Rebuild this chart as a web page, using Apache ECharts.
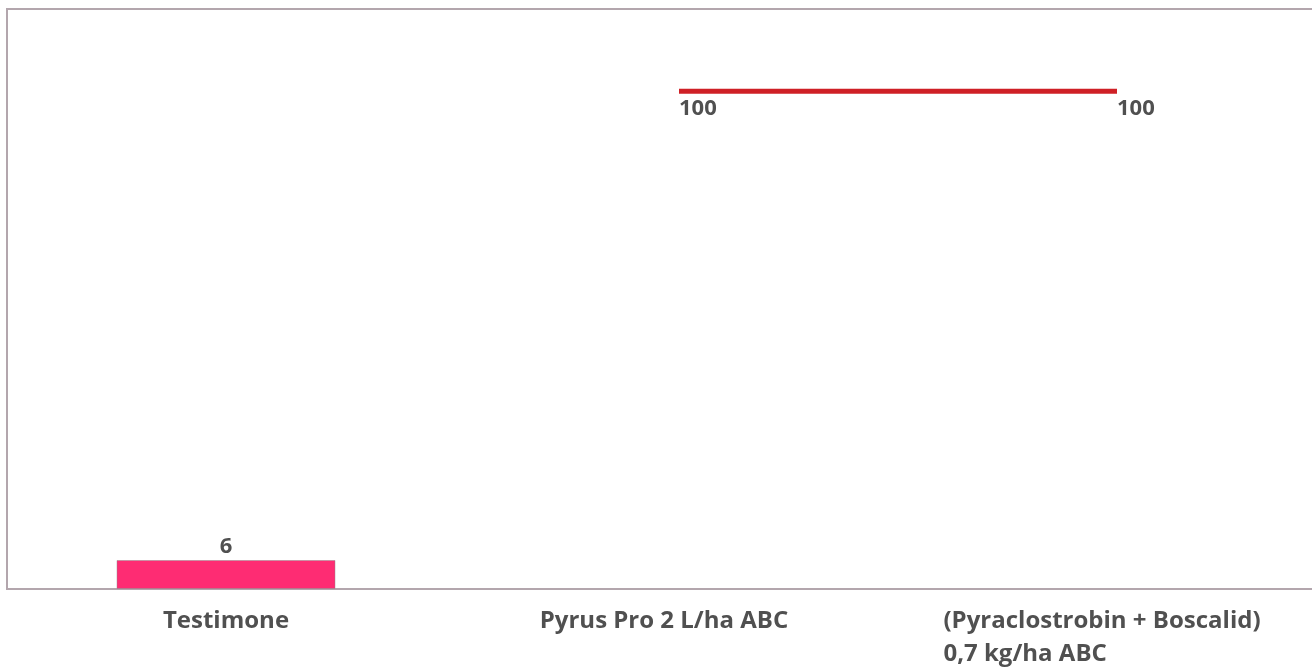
<!DOCTYPE html>
<html>
<head>
<meta charset="utf-8">
<script src="https://cdn.jsdelivr.net/npm/echarts@6/dist/echarts.min.js"></script>
<style>
html,body{margin:0;padding:0;background:#fff;}
#chart{width:1312px;height:668px;}
</style>
</head>
<body>
<div id="chart"></div>
<script>
const categories = ['Testimone', 'Pyrus Pro 2 L/ha ABC', '(Pyraclostrobin + Boscalid)\n0,7 kg/ha ABC'];
const barValues = [6, null, null];
const lineValues = [null, 100, 100];

const labelColor = '#505050';
const fontFamily = '"Open Sans", "Noto Sans", sans-serif';

const chart = echarts.init(document.getElementById('chart'));
chart.setOption({
  animation: false,
  grid: [
    {left: 7, width: 1314, top: 9, height: 580, show: true, borderColor: '#b3a6ad', borderWidth: 2, containLabel: false, outerBoundsMode: 'none'},
    {left: 22, width: 1314, top: 9, height: 580, show: false, containLabel: false, outerBoundsMode: 'none'}
  ],
  xAxis: [
    {
      type: 'category', gridIndex: 0, data: categories,
      axisLine: {show: false}, axisTick: {show: false},
      axisLabel: {
        interval: 0, margin: 16,
        formatter: v => v.split('\n').map(s => '{a|' + s + '}').join('\n'),
        rich: {a: {align: 'left', fontSize: 24, lineHeight: 33, fontWeight: 'bold', color: labelColor, fontFamily: fontFamily}}
      }
    },
    {type: 'category', gridIndex: 1, data: categories, show: false}
  ],
  yAxis: [
    {type: 'value', gridIndex: 0, min: 0, max: 120, show: false, splitLine: {show: false}},
    {type: 'value', gridIndex: 1, min: 0, max: 116.5, show: false, splitLine: {show: false}}
  ],
  series: [
    {
      type: 'bar', xAxisIndex: 0, yAxisIndex: 0, data: barValues, barWidth: '50%',
      itemStyle: {color: '#fe2c73', borderColor: 'rgba(140,140,140,0.45)', borderWidth: 1},
      label: {show: true, position: 'top', distance: 2, fontSize: 22, fontWeight: 'bold', color: labelColor, fontFamily: fontFamily}
    },
    {
      type: 'line', xAxisIndex: 1, yAxisIndex: 1, data: lineValues,
      symbol: 'circle', symbolSize: 0, showSymbol: true,
      lineStyle: {color: '#cf2026', width: 5, cap: 'butt'},
      itemStyle: {color: '#cf2026'},
      label: {show: true, position: 'bottom', align: 'left', distance: 7, fontSize: 22, fontWeight: 'bold', color: labelColor, fontFamily: fontFamily}
    }
  ]
});
</script>
</body>
</html>
